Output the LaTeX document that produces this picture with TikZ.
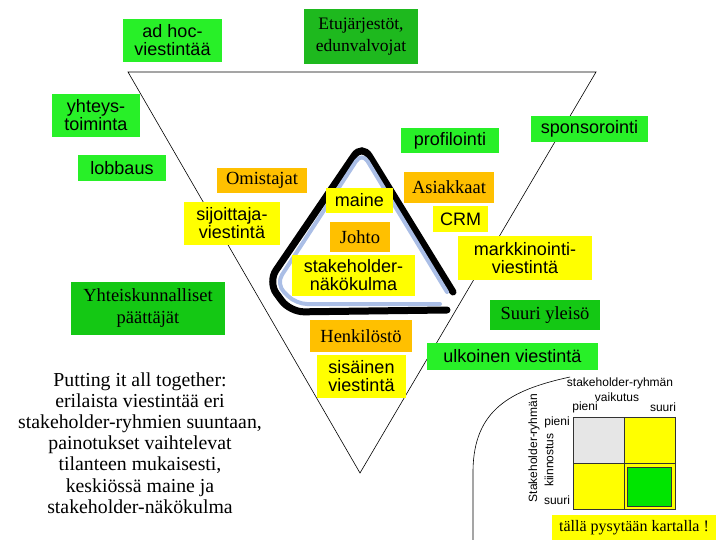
\documentclass[tikz,border=0pt]{standalone}
\usepackage{fontspec}
\setmainfont{Liberation Serif}
\setsansfont{Liberation Sans}
\definecolor{gB}{RGB}{40,240,40}
\definecolor{gD}{RGB}{30,185,30}
\definecolor{gM}{RGB}{20,200,20}
\definecolor{orA}{RGB}{255,192,0}
\definecolor{yeA}{RGB}{255,255,0}
\definecolor{grA}{RGB}{230,230,230}
\definecolor{blA}{RGB}{170,190,230}
\tikzset{
 bx/.style={fill=#1,inner sep=0pt,align=center,font=\sffamily\fontsize{18}{18}\selectfont},
 sbx/.style={fill=#1,inner sep=0pt,align=center,font=\fontsize{18.5}{22}\selectfont},
 lab/.style={inner sep=0pt,font=\sffamily\fontsize{12}{12}\selectfont}
}
\begin{document}
\begin{tikzpicture}[x=1pt,y=-1pt]
\useasboundingbox (0,0) rectangle (720,540);
% thin triangle
\coordinate (t1) at (128,72); \coordinate (t2) at (596,72); \coordinate (t3) at (360,473);
\draw[line width=0.6pt] (t1) -- (t2) -- (t3) -- cycle;
% thick rounded triangle
\draw[line width=7pt,line cap=round,rounded corners=14pt] (453,292) -- (362,144) -- (268,282) -- (290,312) -- (447,310);
\draw[blA,line width=4pt,line cap=round,rounded corners=11pt] (447,292) -- (362,152) -- (276,284) -- (296,304) -- (440,304);
% curve
\coordinate (c1) at (473,540); \coordinate (c2) at (570,377);
\draw[line width=0.6pt] (c1) -- (473,470) .. controls (474,410) and (510,390) .. (c2);
% boxes
\node[bx=gB,minimum width=99,minimum height=43] (adhoc) at (172.5,40.5) {ad hoc-\\viestintää};
\node[sbx=gD,minimum width=114,minimum height=55,font=\fontsize{17.5}{22}\selectfont] (etu) at (361,36.5) {Etujärjestöt,\\edunvalvojat};
\node[bx=gB,minimum width=88,minimum height=43] (yht) at (96,115.5) {yhteys-\\toiminta};
\node[bx=gB,minimum width=88,minimum height=26] (lob) at (122,168) {lobbaus};
\node[bx=gB,minimum width=98,minimum height=25] (prof) at (450,140.5) {profilointi};
\node[bx=gB,minimum width=117,minimum height=26] (spon) at (589.5,129) {sponsorointi};
\node[sbx=orA,minimum width=90,minimum height=25] (omi) at (262,180.5) {Omistajat};
\node[bx=yeA,minimum width=96,minimum height=43] (sij) at (232,223.5) {sijoittaja-\\viestintä};
\node[bx=yeA,minimum width=67,minimum height=25] (mai) at (359.5,200.5) {maine};
\node[sbx=orA,minimum width=60,minimum height=30] (joh) at (360,237) {Johto};
\node[bx=yeA,minimum width=123,minimum height=41] (sta) at (353.5,275.5) {stakeholder-\\näkökulma};
\node[sbx=orA,minimum width=90,minimum height=31] (asi) at (449,187.5) {Asiakkaat};
\node[bx=yeA,minimum width=55,minimum height=26] (crm) at (460.5,219) {CRM};
\node[bx=yeA,minimum width=134,minimum height=44] (mark) at (525,258) {markkinointi-\\viestintä};
\node[sbx=gM,minimum width=154,minimum height=53] (yhk) at (148,308.5) {Yhteiskunnalliset\\päättäjät};
\node[sbx=gM,minimum width=110,minimum height=30] (suu) at (545,315) {Suuri yleisö};
\node[sbx=orA,minimum width=102,minimum height=32] (hen) at (361,336) {Henkilöstö};
\node[bx=yeA,minimum width=89,minimum height=43] (sis) at (361.5,376.5) {sisäinen\\viestintä};
\node[bx=gB,minimum width=171,minimum height=27] (ulk) at (512.5,356.5) {ulkoinen viestintä};
\node[inner sep=0pt,align=center,font=\fontsize{19.8}{21.2}\selectfont] (par) at (140,443) {Putting it all together:\\erilaista viestintää eri\\stakeholder-ryhmien suuntaan,\\painotukset vaihtelevat\\tilanteen mukaisesti,\\keskiössä maine ja\\stakeholder-näkökulma};
% matrix
\fill[grA] (573,417) rectangle (624,463);
\fill[yeA] (624,417) rectangle (675,463);
\fill[yeA] (573,463) rectangle (624,509);
\fill[yeA] (624,463) rectangle (675,509);
\draw[black!80,line width=0.8pt,fill=green!90!black] (627,467) rectangle (671,506);
\draw[black!80,line width=0.8pt] (573,417) rectangle (675,509) (624,417) -- (624,509) (573,463) -- (675,463);
\node[lab] (l1) at (620,383) {stakeholder-ryhmän};
\node[lab] (l2) at (617,397) {vaikutus};
\node[lab] (l3) at (585,407) {pieni};
\node[lab] (l4) at (663,407) {suuri};
\node[lab,rotate=90] (l5) at (534,448) {Stakeholder-ryhmän};
\node[lab,rotate=90] (l6) at (549,460) {kiinnostus};
\node[lab] (l7) at (557,422) {pieni};
\node[lab] (l8) at (557,500) {suuri};
\node[sbx=yeA,minimum width=164,minimum height=26,font=\fontsize{16}{16}\selectfont] (tal) at (634,528) {tällä pysytään kartalla !};
\end{tikzpicture}
\end{document}
